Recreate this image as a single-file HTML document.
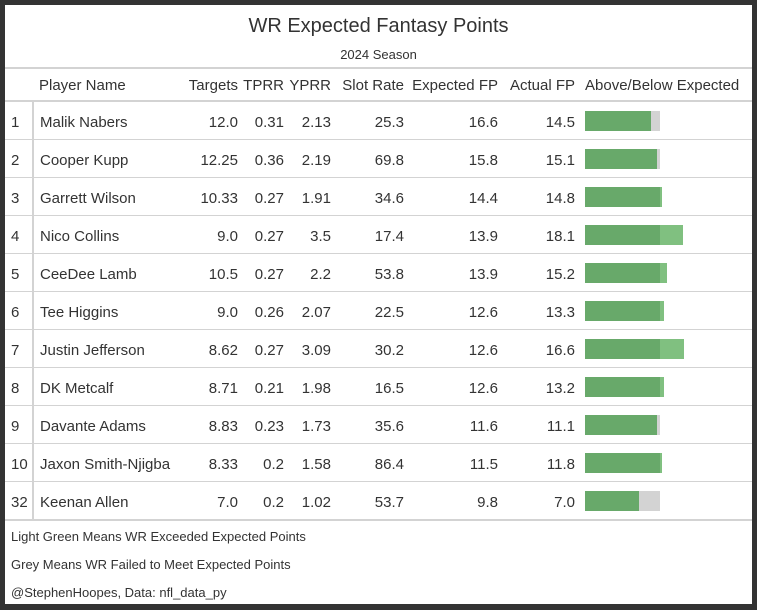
<!DOCTYPE html>
<html><head><meta charset="utf-8"><style>
*{margin:0;padding:0;box-sizing:border-box}
body{width:757px;height:610px;background:#333;font-family:"Liberation Sans",sans-serif;color:#333;overflow:hidden;position:relative}
#w{position:absolute;left:5px;top:5px;width:747px;height:599px;background:#fff}
.a{position:absolute;white-space:nowrap;font-size:15px;line-height:18px}
.r{text-align:right}
.hl{position:absolute;left:5px;width:747px;background:#d3d3d3}
.bar{position:absolute;height:20px}
.g{background:#68a96a}.l{background:#80c080}.y{background:#d3d3d3}
.rw .a{top:12px}
</style></head><body>
<div id="w"></div>
<div class="a" style="left:0;width:757px;text-align:center;top:14px;font-size:20px;line-height:24px">WR Expected Fantasy Points</div>
<div class="a" style="left:0;width:757px;text-align:center;top:46px;font-size:13px">2024 Season</div>
<div class="hl" style="top:67px;height:2px"></div>
<div class="a" style="left:39px;top:77px">Player Name</div>
<div class="a r" style="right:519px;top:77px">Targets</div>
<div class="a r" style="right:473px;top:77px">TPRR</div>
<div class="a r" style="right:426px;top:77px">YPRR</div>
<div class="a r" style="right:353px;top:77px">Slot Rate</div>
<div class="a r" style="right:259px;top:77px">Expected FP</div>
<div class="a r" style="right:182px;top:77px">Actual FP</div>
<div class="a" style="left:585px;top:77px">Above/Below Expected</div>
<div class="hl" style="top:100px;height:2px"></div>
<div style="position:absolute;left:32px;top:102px;width:2px;height:418px;background:#d3d3d3"></div>

<div style="position:absolute;left:0;top:102px;width:757px">
<div class="rw" style="position:absolute;top:0;left:0;width:757px;height:38px">
<div class="a" style="left:11px">1</div><div class="a" style="left:40px">Malik Nabers</div>
<div class="a r" style="right:519px">12.0</div><div class="a r" style="right:473px">0.31</div><div class="a r" style="right:426px">2.13</div><div class="a r" style="right:353px">25.3</div><div class="a r" style="right:259px">16.6</div><div class="a r" style="right:182px">14.5</div>
<div class="bar y" style="left:585px;top:9px;width:75px"></div><div class="bar g" style="left:585px;top:9px;width:65.5px"></div>
<div class="hl" style="top:37px;height:1px"></div></div>

<div class="rw" style="position:absolute;top:38px;left:0;width:757px;height:38px">
<div class="a" style="left:11px">2</div><div class="a" style="left:40px">Cooper Kupp</div>
<div class="a r" style="right:519px">12.25</div><div class="a r" style="right:473px">0.36</div><div class="a r" style="right:426px">2.19</div><div class="a r" style="right:353px">69.8</div><div class="a r" style="right:259px">15.8</div><div class="a r" style="right:182px">15.1</div>
<div class="bar y" style="left:585px;top:9px;width:75px"></div><div class="bar g" style="left:585px;top:9px;width:71.7px"></div>
<div class="hl" style="top:37px;height:1px"></div></div>

<div class="rw" style="position:absolute;top:76px;left:0;width:757px;height:38px">
<div class="a" style="left:11px">3</div><div class="a" style="left:40px">Garrett Wilson</div>
<div class="a r" style="right:519px">10.33</div><div class="a r" style="right:473px">0.27</div><div class="a r" style="right:426px">1.91</div><div class="a r" style="right:353px">34.6</div><div class="a r" style="right:259px">14.4</div><div class="a r" style="right:182px">14.8</div>
<div class="bar l" style="left:585px;top:9px;width:77.1px"></div><div class="bar g" style="left:585px;top:9px;width:75px"></div>
<div class="hl" style="top:37px;height:1px"></div></div>

<div class="rw" style="position:absolute;top:114px;left:0;width:757px;height:38px">
<div class="a" style="left:11px">4</div><div class="a" style="left:40px">Nico Collins</div>
<div class="a r" style="right:519px">9.0</div><div class="a r" style="right:473px">0.27</div><div class="a r" style="right:426px">3.5</div><div class="a r" style="right:353px">17.4</div><div class="a r" style="right:259px">13.9</div><div class="a r" style="right:182px">18.1</div>
<div class="bar l" style="left:585px;top:9px;width:97.7px"></div><div class="bar g" style="left:585px;top:9px;width:75px"></div>
<div class="hl" style="top:37px;height:1px"></div></div>

<div class="rw" style="position:absolute;top:152px;left:0;width:757px;height:38px">
<div class="a" style="left:11px">5</div><div class="a" style="left:40px">CeeDee Lamb</div>
<div class="a r" style="right:519px">10.5</div><div class="a r" style="right:473px">0.27</div><div class="a r" style="right:426px">2.2</div><div class="a r" style="right:353px">53.8</div><div class="a r" style="right:259px">13.9</div><div class="a r" style="right:182px">15.2</div>
<div class="bar l" style="left:585px;top:9px;width:82px"></div><div class="bar g" style="left:585px;top:9px;width:75px"></div>
<div class="hl" style="top:37px;height:1px"></div></div>

<div class="rw" style="position:absolute;top:190px;left:0;width:757px;height:38px">
<div class="a" style="left:11px">6</div><div class="a" style="left:40px">Tee Higgins</div>
<div class="a r" style="right:519px">9.0</div><div class="a r" style="right:473px">0.26</div><div class="a r" style="right:426px">2.07</div><div class="a r" style="right:353px">22.5</div><div class="a r" style="right:259px">12.6</div><div class="a r" style="right:182px">13.3</div>
<div class="bar l" style="left:585px;top:9px;width:79.2px"></div><div class="bar g" style="left:585px;top:9px;width:75px"></div>
<div class="hl" style="top:37px;height:1px"></div></div>

<div class="rw" style="position:absolute;top:228px;left:0;width:757px;height:38px">
<div class="a" style="left:11px">7</div><div class="a" style="left:40px">Justin Jefferson</div>
<div class="a r" style="right:519px">8.62</div><div class="a r" style="right:473px">0.27</div><div class="a r" style="right:426px">3.09</div><div class="a r" style="right:353px">30.2</div><div class="a r" style="right:259px">12.6</div><div class="a r" style="right:182px">16.6</div>
<div class="bar l" style="left:585px;top:9px;width:98.8px"></div><div class="bar g" style="left:585px;top:9px;width:75px"></div>
<div class="hl" style="top:37px;height:1px"></div></div>

<div class="rw" style="position:absolute;top:266px;left:0;width:757px;height:38px">
<div class="a" style="left:11px">8</div><div class="a" style="left:40px">DK Metcalf</div>
<div class="a r" style="right:519px">8.71</div><div class="a r" style="right:473px">0.21</div><div class="a r" style="right:426px">1.98</div><div class="a r" style="right:353px">16.5</div><div class="a r" style="right:259px">12.6</div><div class="a r" style="right:182px">13.2</div>
<div class="bar l" style="left:585px;top:9px;width:78.6px"></div><div class="bar g" style="left:585px;top:9px;width:75px"></div>
<div class="hl" style="top:37px;height:1px"></div></div>

<div class="rw" style="position:absolute;top:304px;left:0;width:757px;height:38px">
<div class="a" style="left:11px">9</div><div class="a" style="left:40px">Davante Adams</div>
<div class="a r" style="right:519px">8.83</div><div class="a r" style="right:473px">0.23</div><div class="a r" style="right:426px">1.73</div><div class="a r" style="right:353px">35.6</div><div class="a r" style="right:259px">11.6</div><div class="a r" style="right:182px">11.1</div>
<div class="bar y" style="left:585px;top:9px;width:75px"></div><div class="bar g" style="left:585px;top:9px;width:71.8px"></div>
<div class="hl" style="top:37px;height:1px"></div></div>

<div class="rw" style="position:absolute;top:342px;left:0;width:757px;height:38px">
<div class="a" style="left:11px">10</div><div class="a" style="left:40px">Jaxon Smith-Njigba</div>
<div class="a r" style="right:519px">8.33</div><div class="a r" style="right:473px">0.2</div><div class="a r" style="right:426px">1.58</div><div class="a r" style="right:353px">86.4</div><div class="a r" style="right:259px">11.5</div><div class="a r" style="right:182px">11.8</div>
<div class="bar l" style="left:585px;top:9px;width:77px"></div><div class="bar g" style="left:585px;top:9px;width:75px"></div>
<div class="hl" style="top:37px;height:1px"></div></div>

<div class="rw" style="position:absolute;top:380px;left:0;width:757px;height:38px">
<div class="a" style="left:11px">32</div><div class="a" style="left:40px">Keenan Allen</div>
<div class="a r" style="right:519px">7.0</div><div class="a r" style="right:473px">0.2</div><div class="a r" style="right:426px">1.02</div><div class="a r" style="right:353px">53.7</div><div class="a r" style="right:259px">9.8</div><div class="a r" style="right:182px">7.0</div>
<div class="bar y" style="left:585px;top:9px;width:75px"></div><div class="bar g" style="left:585px;top:9px;width:53.6px"></div>
</div>
</div>
<div class="hl" style="top:519px;height:2px"></div>
<div class="a" style="left:11px;top:528px;font-size:13px">Light Green Means WR Exceeded Expected Points</div>
<div class="a" style="left:11px;top:556px;font-size:13px">Grey Means WR Failed to Meet Expected Points</div>
<div class="a" style="left:11px;top:584px;font-size:13px">@StephenHoopes, Data: nfl_data_py</div>
</body></html>
